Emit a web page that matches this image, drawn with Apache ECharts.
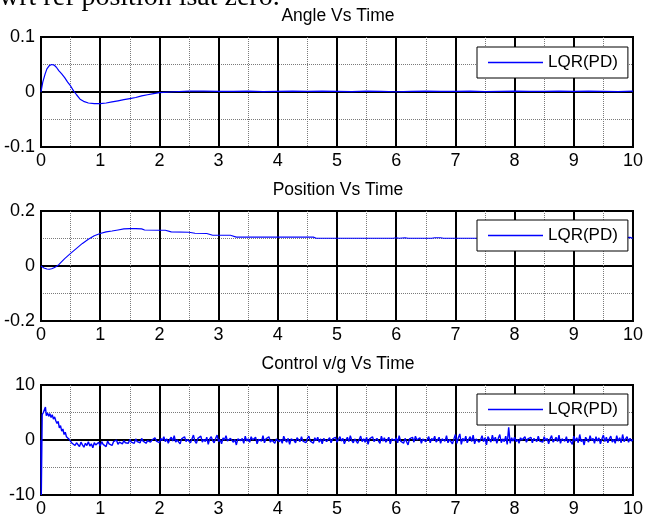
<!DOCTYPE html>
<html><head><meta charset="utf-8">
<script src="https://cdn.jsdelivr.net/npm/echarts@6/dist/echarts.min.js"></script>
<style>html,body{margin:0;padding:0;background:#fff}#c{width:646px;height:519px}</style>
</head><body><div id="c"></div>
<script>
// ---- data ----
const seriesName = 'LQR(PD)';
const titles = ['Angle Vs Time', 'Position Vs Time', 'Control v/g Vs Time'];
const headText = 'wrt ref position isat zero.';

const angleT = [0,0.03,0.07,0.1,0.14,0.18,0.22,0.26,0.3,0.35,0.4,0.45,0.5,0.55,0.6,0.66,0.72,0.8,0.9,1.0,
  1.1,1.2,1.3,1.4,1.5,1.6,1.7,1.8,1.9,2.0,
  2.25,2.5,2.75,3,3.25,3.5,3.75,4,4.25,4.5,4.75,5,5.25,5.5,5.75,6,6.25,6.5,6.75,7,7.25,7.5,7.75,8,8.25,8.5,8.75,9,9.25,9.5,9.75,10];
const angleV = [0,0.018,0.033,0.042,0.048,0.05,0.049,0.045,0.039,0.033,0.026,0.018,0.011,0.002,-0.005,-0.013,-0.017,-0.02,-0.021,-0.021,
  -0.02,-0.018,-0.016,-0.014,-0.012,-0.01,-0.007,-0.005,-0.003,-0.001,
  0.0005,0.0015,0.0015,0.001,0.0012,0.0015,0.0008,0.0012,0.0015,0.001,0.0015,0.0012,0.0008,0.0015,0.001,0.0005,0.0012,0.0015,0.001,0.0012,0.0015,0.0008,0.0012,0.0015,0.001,0.0012,0.0015,0.001,0.0015,0.0012,0.0008,0.0015];

const posT = [0,0.05,0.1,0.14,0.18,0.22,0.26,0.3,0.4,0.5,0.6,0.7,0.8,0.9,1.0,1.1,1.2,1.3,1.4,1.5,
  1.6,1.7,1.75,2.0,2.1,2.2,2.5,2.6,2.8,2.9,3.2,3.3,4.0,4.6,4.65,5.0,5.5,5.95,6.0,6.05,
  6.15,6.2,6.25,6.6,6.65,6.75,6.8,7.0,7.5,8.0,8.5,9.0,9.5,9.95,10];
const posV = [0,-0.007,-0.011,-0.012,-0.01,-0.006,-0.002,0.005,0.027,0.046,0.064,0.082,0.097,0.11,0.118,0.124,0.127,0.131,0.135,0.136,
  0.136,0.135,0.131,0.13,0.13,0.124,0.123,0.119,0.118,0.112,0.112,0.105,0.105,0.105,0.101,0.101,0.101,0.101,0.103,0.101,
  0.103,0.101,0.101,0.101,0.103,0.103,0.101,0.101,0.101,0.101,0.101,0.101,0.101,0.104,0.101];

const ctrlHeadT = [0,0.005,0.02,0.04,0.06,0.075,0.09,0.11,0.13,0.15,0.17,0.19,0.21,0.23,0.25,0.27,0.29,0.31,0.33,0.35,0.37,0.39,0.41,0.43,0.45,0.47];
const ctrlHeadV = [0,-10,4.6,5.0,4.7,6.0,4.4,4.9,4.3,4.8,4.1,4.6,3.8,4.2,3.5,3.0,3.4,2.2,2.6,1.6,2.0,1.0,1.4,0.6,0.9,0.2];
const ctrlTailStart = 0.5, ctrlTailStep = 0.025;
const ctrlTailV = [
  -0.1,-0.6,-0.3,-1.0,-0.5,-0.8,-1.2,-0.4,-0.9,-1.3,-0.6,-1.0,-0.3,-1.1,-0.7,-1.4,-0.5,-0.9,-1.2,-0.4,
  -1.1,-0.3,-0.8,-0.5,-1.2,-0.2,-0.7,-0.4,-1.0,-0.3,-0.6,0.0,-0.8,-0.4,-0.2,-0.7,-0.1,-0.5,-0.3,-0.6,
  0.1,-0.4,-0.2,-0.6,0.2,-0.3,-0.1,-0.5,0.3,-0.2,0.1,-0.6,-0.1,0.2,-0.4,0.0,-0.3,0.4,-0.2,0.1,
  -0.5,0.3,-0.1,0.6,-0.3,0.2,-0.6,0.1,0.5,-0.2,0.8,-0.4,0.0,0.3,-0.7,0.2,-0.1,0.6,-0.3,0.1,
  0.4,-0.5,0.2,0.9,-0.2,-0.6,0.3,0.0,0.7,-0.4,0.1,-0.3,0.5,-0.8,0.2,0.6,-0.1,-0.5,0.3,0.9,
  -0.3,0.1,-0.7,0.4,0.0,0.8,-0.2,-0.5,0.3,0.6,-0.4,0.1,-0.9,0.2,0.5,-0.1,0.3,-0.6,0.7,-0.2,
  0.2,-0.4,0.6,0.0,-0.3,0.5,-0.7,0.1,0.4,-0.2,0.8,-0.5,0.2,-0.1,0.6,-0.4,0.0,0.3,-0.6,0.2,
  0.5,-0.3,0.1,-0.6,0.7,0.0,-0.4,0.3,-0.8,0.2,0.5,-0.1,-0.5,0.4,0.1,-0.3,0.6,-0.2,0.0,-0.5,
  0.3,0.7,-0.2,0.1,-0.6,0.4,-0.1,0.5,-0.4,0.2,-0.7,0.3,0.6,-0.3,0.0,0.4,-0.5,0.2,-0.1,0.5,
  -0.4,0.1,0.6,-0.2,0.3,-0.7,0.0,0.5,-0.3,0.8,-0.1,-0.5,0.2,0.4,-0.6,0.1,0.7,-0.3,0.2,-0.4,
  0.5,-0.8,0.2,0.0,0.6,-0.3,-0.5,0.3,0.1,-0.6,0.7,-0.2,0.4,-0.4,0.0,0.5,-0.7,0.2,0.3,-0.1,
  0.4,-0.5,0.8,-0.2,0.1,-0.6,0.3,0.6,-0.9,0.2,-0.1,0.5,-0.4,0.7,0.0,-0.3,0.4,-0.6,0.2,0.5,
  -0.3,0.1,0.6,-0.5,0.3,-0.1,0.7,-0.4,0.0,0.5,-0.6,0.2,0.4,-0.2,0.8,-0.5,0.1,0.3,-0.7,0.2,
  1.0,-0.6,0.4,1.1,-0.8,0.3,-0.2,0.7,-0.5,0.1,0.6,-0.3,0.9,-0.7,0.2,0.5,-0.4,0.0,0.8,-0.3,
  0.4,-0.9,0.6,0.1,-0.4,0.9,-0.2,0.5,-0.6,0.3,1.0,-0.5,0.2,-0.3,0.7,-0.8,2.3,-0.6,0.4,-0.2,
  0.5,-0.3,0.1,-0.6,0.4,0.0,-0.2,0.6,-0.4,0.2,-0.1,0.5,-0.5,0.3,0.0,-0.3,0.7,-0.2,0.1,-0.4,
  0.6,-0.1,0.3,-0.7,0.2,0.8,-0.4,0.0,0.5,-0.3,0.9,-0.6,0.2,0.4,-0.2,0.6,-0.5,0.1,0.3,-0.8,
  0.7,-0.2,0.4,-0.5,1.0,-0.3,0.1,-0.9,0.5,0.2,-0.4,0.8,-0.1,0.3,-0.6,0.6,-0.2,0.4,-0.7,0.2,
  0.9,-0.3,0.5,-0.5,0.2,0.7,-0.4,0.1,-0.6,0.8,-0.2,0.4,-0.5,1.0,-0.3,0.2,0.6,-0.4,0.3,-0.2,
  0.1];

const yRanges = [[-0.1, 0.1, 0.1], [-0.2, 0.2, 0.2], [-10, 10, 10]];

// ---- build ----
const pair = (T, V) => T.map((t, i) => [t, V[i]]);
const angleData = pair(angleT, angleV);
const posData = pair(posT, posV);
const ctrlData = pair(ctrlHeadT, ctrlHeadV).concat(
  ctrlTailV.map((v, i) => [+(ctrlTailStart + i * ctrlTailStep).toFixed(3), v]));
const allData = [angleData, posData, ctrlData];
const lineWidths = [1.2, 1.1, 1.4];

const FONT = '"Liberation Sans", Arial, Helvetica, sans-serif';
const gridTops = [37, 211, 385];
const titleTops = [7, 181, 355];
const legendTops = [47, 220, 394];

const option = {
  animation: false,
  backgroundColor: '#fff',
  title: titles.map((t, i) => ({
    text: t, left: 338, top: titleTops[i], textAlign: 'center', padding: 0,
    textStyle: { fontSize: 17.5, fontWeight: 'normal', color: '#000', fontFamily: FONT }
  })),
  graphic: [{
    type: 'text', x: -1, y: -2, silent: true,
    style: { text: headText, font: '28px "Liberation Serif", "Times New Roman", serif', fill: '#000',
      textVerticalAlign: 'middle', verticalAlign: 'middle' }
  }],
  legend: legendTops.map(top => ({
    data: [seriesName], left: 477, top: top, orient: 'horizontal',
    padding: [7, 10, 7, 11], backgroundColor: '#fff', borderColor: '#000', borderWidth: 1,
    icon: 'rect', itemWidth: 55, itemHeight: 1.4, itemGap: 0, selectedMode: false,
    itemStyle: { color: '#0000ff' },
    textStyle: { fontSize: 17, color: '#000', fontFamily: FONT }
  })),
  grid: gridTops.map(top => ({
    left: 41, width: 595, top: top, height: 110, show: true,
    borderColor: '#000', borderWidth: 2, backgroundColor: 'transparent'
  })),
  xAxis: [0, 1, 2].map(i => ({
    gridIndex: i, type: 'value', min: 0, max: 10, interval: 1,
    axisLine: { show: false }, axisTick: { show: false },
    axisLabel: { color: '#000', fontSize: 18, fontFamily: FONT, margin: 5 },
    splitLine: { show: true, lineStyle: { color: '#000', width: 2 } },
    minorTick: { show: false, splitNumber: 2 },
    minorSplitLine: { show: true, lineStyle: { color: '#7a7a7a', width: 1, type: [1, 1] } }
  })),
  yAxis: yRanges.map((r, i) => ({
    gridIndex: i, type: 'value', min: r[0], max: r[1], interval: r[2],
    axisLine: { show: false }, axisTick: { show: false },
    axisLabel: { color: '#000', fontSize: 18, fontFamily: FONT, margin: 6 },
    splitLine: { show: true, lineStyle: { color: '#000', width: 2 } },
    minorTick: { show: false, splitNumber: 2 },
    minorSplitLine: { show: true, lineStyle: { color: '#7a7a7a', width: 1, type: [1, 1] } }
  })),
  series: allData.map((d, i) => ({
    name: seriesName, type: 'line', xAxisIndex: i, yAxisIndex: i,
    data: d, symbol: 'none', showSymbol: false, clip: true,
    lineStyle: { color: '#0000ff', width: lineWidths[i] }, itemStyle: { color: '#0000ff' }
  }))
};

const chart = echarts.init(document.getElementById('c'), null, { renderer: 'canvas' });
chart.setOption(option);
</script></body></html>
